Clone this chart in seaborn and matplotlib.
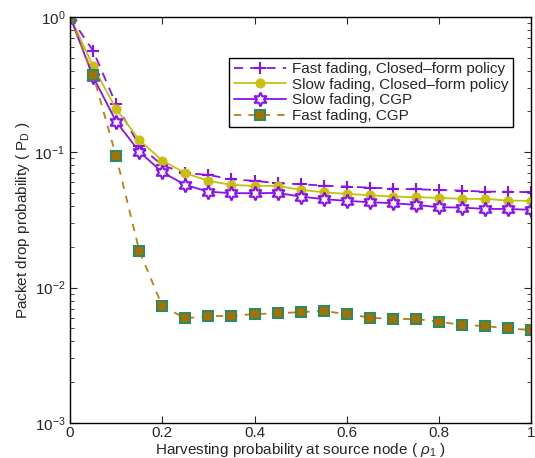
import matplotlib
matplotlib.use("Agg")
import matplotlib.pyplot as plt
import seaborn as sns
import numpy as np
import pandas as pd

sns.set_style("ticks")
plt.rcParams['font.family'] = ['Liberation Sans', 'DejaVu Sans']
plt.rcParams['mathtext.fontset'] = 'custom'
plt.rcParams['mathtext.rm'] = 'Liberation Sans'
plt.rcParams['mathtext.it'] = 'Liberation Sans:italic'

rho = [0.0, 0.05, 0.1, 0.15, 0.2, 0.25, 0.3, 0.35, 0.4, 0.45, 0.5,
       0.55, 0.6, 0.65, 0.7, 0.75, 0.8, 0.85, 0.9, 0.95, 1.0]

fast_closed = [1.0, 0.56, 0.225, 0.112, 0.08, 0.07, 0.068, 0.063, 0.0614, 0.059, 0.058,
               0.0566, 0.0557, 0.0547, 0.0538, 0.0532, 0.0526, 0.052, 0.0511, 0.0511, 0.0506]
slow_closed = [1.0, 0.43, 0.208, 0.123, 0.0867, 0.070, 0.0614, 0.0573, 0.0564, 0.0564, 0.0527,
               0.0506, 0.0492, 0.0481, 0.047, 0.0465, 0.046, 0.0452, 0.0452, 0.0439, 0.0437]
slow_cgp = [1.0, 0.36, 0.168, 0.101, 0.0711, 0.0573, 0.0511, 0.0498, 0.0498, 0.050, 0.047,
            0.045, 0.0437, 0.0427, 0.042, 0.0408, 0.0392, 0.039, 0.0381, 0.0381, 0.0375]
fast_cgp = [1.0, 0.372, 0.093, 0.0187, 0.0073, 0.00593, 0.00617, 0.00617, 0.00638, 0.00645, 0.0066,
            0.00671, 0.00638, 0.0060, 0.00586, 0.00586, 0.0056, 0.0053, 0.0052, 0.0050, 0.00486]

labels = ["Fast fading, Closed\u2013form policy",
          "Slow fading, Closed\u2013form policy",
          "Slow fading, CGP",
          "Fast fading, CGP"]

purple = '#8a10f0'
yellow = '#c8c010'
brown = '#c07c10'

fig = plt.figure(figsize=(5.35, 4.58), dpi=100)
ax = fig.add_axes([0.131, 0.0764, 0.862, 0.887])

sns.lineplot(x=rho, y=fast_closed, ax=ax, color=purple, linestyle=(0, (5, 4)),
             marker='+', markersize=9, markeredgewidth=1.5, markeredgecolor=purple,
             linewidth=1.3, label=labels[0])
sns.lineplot(x=rho, y=slow_closed, ax=ax, color=yellow, linestyle='-',
             marker='o', markersize=6.5, markeredgecolor=yellow, markerfacecolor=yellow,
             linewidth=1.3, label=labels[1])
sns.lineplot(x=rho, y=slow_cgp, ax=ax, color=purple, linestyle='-',
             marker=(6, 1, 0), markersize=10, markerfacecolor='white', markeredgecolor=purple,
             markeredgewidth=1.5, linewidth=1.3, label=labels[2])
sns.lineplot(x=rho, y=fast_cgp, ax=ax, color=brown, linestyle=(0, (4, 4)),
             marker='s', markersize=7, markerfacecolor='#a87000', markeredgecolor='#2e8a60',
             markeredgewidth=1.5, linewidth=1.3, label=labels[3])

ax.set_yscale('log')
ax.set_xlim(0, 1)
ax.set_ylim(1e-3, 1)
ax.set_xticks([0, 0.2, 0.4, 0.6, 0.8, 1.0])
ax.set_xticklabels(['0', '0.2', '0.4', '0.6', '0.8', '1'])
ax.tick_params(which='both', direction='in', top=True, right=True, labelsize=11)
ax.tick_params(axis='x', which='major', pad=2)
ax.tick_params(which='major', length=5)
ax.tick_params(which='minor', length=3)
for s in ax.spines.values():
    s.set_linewidth(1.0)
    s.set_color('black')

ax.set_xlabel(r'Harvesting probability at source node ( $\rho_1$ )', fontsize=11, labelpad=1)
ax.set_ylabel(r'Packet drop probability ( P$_\mathrm{D}$ )', fontsize=11, labelpad=2)

leg = ax.legend(loc='upper right', bbox_to_anchor=(0.977, 0.918), fontsize=11,
                frameon=True, fancybox=False, edgecolor='black', framealpha=1,
                handlelength=3.4, borderpad=0.3, labelspacing=0.1, handletextpad=0.4)
leg.get_frame().set_linewidth(1.0)

fig.savefig('out.png', dpi=100)
